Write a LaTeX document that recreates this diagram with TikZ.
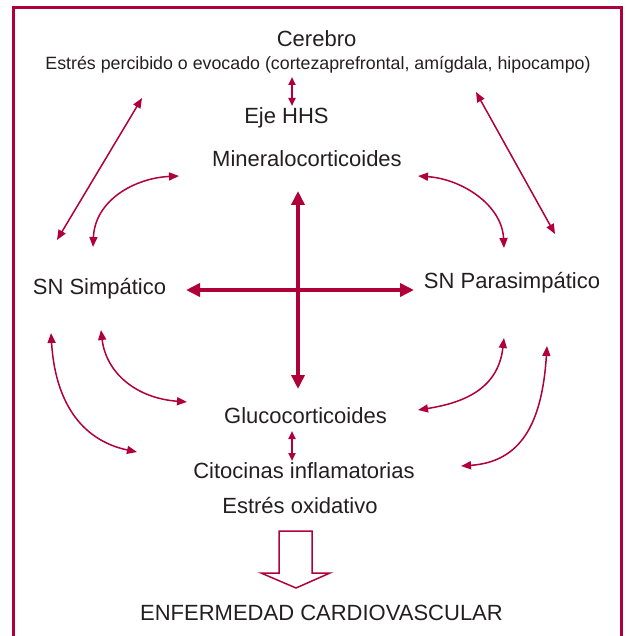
\documentclass[tikz,border=0pt]{standalone}
\usepackage{fontspec}
\setmainfont{Liberation Sans}
\usepackage{tikz}
\usetikzlibrary{arrows.meta}
\definecolor{crimson}{RGB}{176,0,58}
\definecolor{ink}{RGB}{35,31,32}

\begin{document}
\begin{tikzpicture}[x=1pt,y=-1pt,
   label/.style={text=ink,font=\fontsize{22}{26}\selectfont,anchor=base},
   sublabel/.style={text=ink,font=\fontsize{17.8}{21}\selectfont,anchor=base},
   link/.style={crimson,line width=1.5pt,{Triangle[length=10pt,width=8pt]}-{Triangle[length=10pt,width=8pt]}},
   shortlink/.style={crimson,line width=2pt,{Triangle[length=8pt,width=7pt]}-{Triangle[length=8pt,width=7pt]}},
   mainlink/.style={crimson,line width=4.5pt,{Triangle[length=14pt,width=13pt]}-{Triangle[length=14pt,width=13pt]}}]

   \tikzstyle{every node}+=[inner sep=0pt]
   \useasboundingbox (0,0) rectangle (626,636);
   \clip (0,0) rectangle (626,636);

   % frame, open at the bottom
   \draw [crimson, line width=3pt] (13.5,650) -- (13.5,8) -- (621,8) -- (621,650);

   % texts
   \node [label] (cerebro) at (316.6,47) {Cerebro};
   \node [sublabel] (estres) at (318,70) {Estrés percibido o evocado (cortezaprefrontal, amígdala, hipocampo)};
   \node [label] (eje) at (286.5,124) {Eje HHS};
   \node [label] (mineral) at (307,167) {Mineralocorticoides};
   \node [label] (simpatico) at (99.5,294) {SN Simpático};
   \node [label] (parasimp) at (512,288) {SN Parasimpático};
   \node [label] (gluco) at (305.5,423) {Glucocorticoides};
   \node [label] (citocinas) at (304,478) {Citocinas inflamatorias};
   \node [label] (oxidativo) at (300,513) {Estrés oxidativo};
   \node [label] (enfermedad) at (321.5,620) {ENFERMEDAD CARDIOVASCULAR};

   % arrow ends
   \coordinate (hhsT) at (292,77);
   \coordinate (hhsB) at (292,106);
   \coordinate (gcT) at (292,431);
   \coordinate (gcB) at (292,461);
   \coordinate (axT) at (298,191);
   \coordinate (axB) at (298,389);
   \coordinate (axL) at (186,290);
   \coordinate (axR) at (414,290);

   \coordinate (ulA) at (142,98);
   \coordinate (ulB) at (57,240);
   \coordinate (urA) at (476,92);
   \coordinate (urB) at (555,234);

   \coordinate (miL) at (179,176);
   \coordinate (siT) at (93,247);
   \coordinate (miR) at (418,176);
   \coordinate (paT) at (504,248);

   \coordinate (siO) at (51,333);
   \coordinate (ciL) at (137,452);
   \coordinate (siI) at (101,330);
   \coordinate (glL) at (187,402);
   \coordinate (paI) at (504,338);
   \coordinate (glR) at (418,410);
   \coordinate (paO) at (547,346);
   \coordinate (ciR) at (461,466);

   % connectors
   \draw [shortlink] (hhsT) -- (hhsB);
   \draw [shortlink] (gcT) -- (gcB);
   \draw [mainlink] (axT) -- (axB);
   \draw [mainlink] (axL) -- (axR);

   \draw [link] (ulA) -- (ulB);
   \draw [link] (urA) -- (urB);
   \draw [link] (miL) .. controls (135,178) and (95,200) .. (siT);
   \draw [link] (miR) .. controls (462,179) and (502,205) .. (paT);
   \draw [link] (siO) .. controls (55,400) and (80,440) .. (ciL);
   \draw [link] (siI) .. controls (106,372) and (135,398) .. (glL);
   \draw [link] (paI) .. controls (498,390) and (462,403) .. (glR);
   \draw [link] (paO) .. controls (542,425) and (520,462) .. (ciR);

   % hollow arrow down to the disease
   \draw [crimson, line width=1.5pt] (279,531) -- (312,531) -- (312,573) -- (330,573)
      -- (296,588) -- (261,573) -- (279,573) -- cycle;

\end{tikzpicture}
\end{document}
